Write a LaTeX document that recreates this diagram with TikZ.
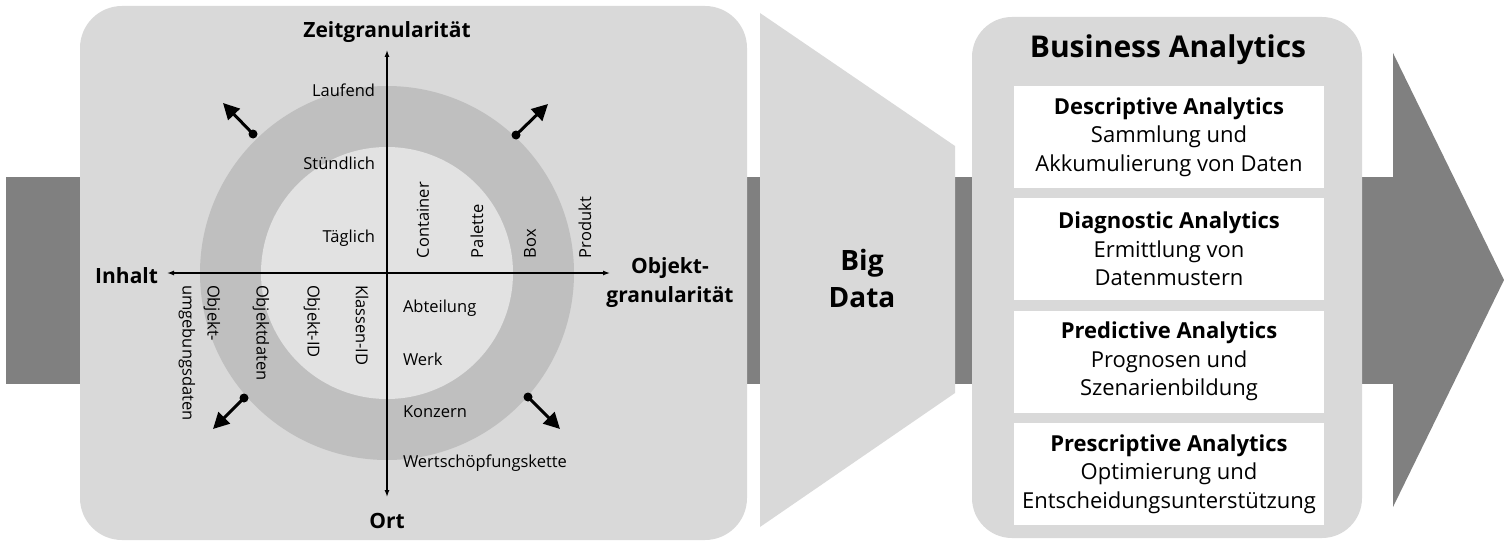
\documentclass[tikz,border=0pt]{standalone}
\usepackage{fontspec}
\setmainfont{Open Sans}
\usetikzlibrary{arrows.meta}
\definecolor{panelgray}{HTML}{D9D9D9}
\definecolor{ringgray}{HTML}{BFBFBF}
\definecolor{innergray}{HTML}{E2E2E2}
\definecolor{bandgray}{HTML}{808080}
\begin{document}
\begin{tikzpicture}[x=1pt,y=-1pt,
  every node/.style={inner sep=0pt, outer sep=0pt},
  lbl/.style={font=\fontsize{16.5}{25}\selectfont, align=left},
  axlbl/.style={font=\fontsize{21}{29}\selectfont\bfseries, align=center},
  bigtxt/.style={font=\fontsize{28}{37}\selectfont\bfseries, align=center},
  titletxt/.style={font=\fontsize{30}{40}\selectfont\bfseries},
  wbox/.style={fill=white, minimum width=310pt, minimum height=102pt, align=center,
    font=\fontsize{22}{28.5}\selectfont},
  axis/.style={line width=1.3pt, {Latex[length=7pt,width=5pt]}-{Latex[length=7pt,width=5pt]}},
  diag/.style={line width=3pt, -{Triangle[length=16pt,width=16pt]}},
  dotnode/.style={circle, fill=black, minimum size=9pt}
]
\useasboundingbox (0,0) rectangle (1504,543);
% background band and arrow head
\fill[bandgray] (6,177) rectangle (1393,384);
\fill[bandgray] (1393,53) -- (1504,280) -- (1393,507) -- cycle;
% left panel
\fill[panelgray, rounded corners=42pt] (80,6) rectangle (747,540);
% big data trapezoid
\fill[panelgray] (760,13) -- (955,146) -- (955,393) -- (760,527) -- cycle;
\node[bigtxt] (bigdata) at (862,278) {Big\\Data};
% right panel
\fill[panelgray, rounded corners=40pt] (972,17) rectangle (1362,538);
\node[titletxt] (ba) at (1168,50) {Business Analytics};
\node[wbox] (b1) at (1169,137) {\textbf{Descriptive Analytics}\\Sammlung und\\Akkumulierung von Daten};
\node[wbox] (b2) at (1169,249) {\textbf{Diagnostic Analytics}\\Ermittlung von\\Datenmustern};
\node[wbox] (b3) at (1169,361.5) {\textbf{Predictive Analytics}\\Prognosen und\\Szenarienbildung};
\node[wbox] (b4) at (1169,474) {\textbf{Prescriptive Analytics}\\Optimierung und\\Entscheidungsunterstützung};
% ring
\coordinate (c) at (387,273);
\fill[ringgray] (c) circle[radius=187pt];
\fill[innergray] (c) circle[radius=126pt];
% axes
\coordinate (top) at (387,50);
\coordinate (bot) at (387,497);
\coordinate (lft) at (167,273);
\coordinate (rgt) at (610,273);
\draw[axis] (bot) -- (top);
\draw[axis] (lft) -- (rgt);
\node[axlbl] (zeit) at (387,32) {Zeitgranularität};
\node[axlbl, anchor=east] (inhalt) at (158,276) {Inhalt};
\node[axlbl] (objg) at (670,283) {Objekt-\\granularität};
\node[axlbl] (ort) at (387,521) {Ort};
% time labels
\node[lbl, anchor=east] (l1) at (375,90) {Laufend};
\node[lbl, anchor=east] (l2) at (375,163) {Stündlich};
\node[lbl, anchor=east] (l3) at (375,238) {Täglich};
% object labels
\node[lbl, rotate=90, anchor=west] (o1) at (423,258) {Container};
\node[lbl, rotate=90, anchor=west] (o2) at (477,258) {Palette};
\node[lbl, rotate=90, anchor=west] (o3) at (530,258) {Box};
\node[lbl, rotate=90, anchor=west] (o4) at (585,258) {Produkt};
% content labels
\node[lbl, rotate=-90, anchor=west] (k1) at (362,285) {Klassen-ID};
\node[lbl, rotate=-90, anchor=west] (k2) at (312,285) {Objekt-ID};
\node[lbl, rotate=-90, anchor=west] (k3) at (261,285) {Objektdaten};
\node[lbl, rotate=-90, anchor=west] (k4) at (199.5,285) {Objekt-\\umgebungsdaten};
% place labels
\node[lbl, anchor=west] (p1) at (403,308) {Abteilung};
\node[lbl, anchor=west] (p2) at (403,359) {Werk};
\node[lbl, anchor=west] (p3) at (403,412) {Konzern};
\node[lbl, anchor=west] (p4) at (403,463) {Wertschöpfungskette};
% diagonal arrows
\node[dotnode] (d1) at (253,134) {};
\node[dotnode] (d2) at (516,135) {};
\node[dotnode] (d3) at (244,398) {};
\node[dotnode] (d4) at (528,397) {};
\coordinate (t1) at (223,103);
\coordinate (t2) at (548,104);
\coordinate (t3) at (213,429);
\coordinate (t4) at (560,429);
\draw[diag] (d1.center) -- (t1);
\draw[diag] (d2.center) -- (t2);
\draw[diag] (d3.center) -- (t3);
\draw[diag] (d4.center) -- (t4);
\end{tikzpicture}
\end{document}
